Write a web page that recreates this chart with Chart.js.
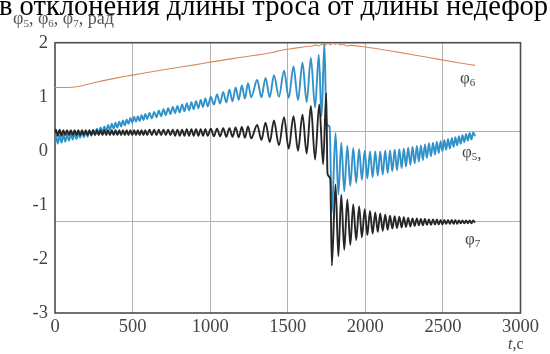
<!DOCTYPE html>
<html>
<head>
<meta charset="utf-8">
<script src="https://cdn.jsdelivr.net/npm/chart.js@4"></script>
<style>
  html, body { margin: 0; padding: 0; background: #fff; overflow: hidden; }
  canvas { display: block; }
</style>
</head>
<body>
<canvas id="chart" width="550" height="354"></canvas>
<script>
// tick values
const xTicks = [0, 500, 1000, 1500, 2000, 2500, 3000];
const yTicks = [-3, -2, -1, 0, 1, 2];
const yGuides = [0.36, -1.31];

// phi6 (orange), [t, value]
const phi6 = [
  [0,1.17],[80,1.17],[150,1.19],[250,1.26],[400,1.35],[500,1.40],[700,1.50],[900,1.59],[1000,1.64],
  [1200,1.73],[1400,1.82],[1460,1.86],[1550,1.90],[1620,1.93],[1660,1.94],[1680,1.96],[1700,1.94],
  [1720,1.97],[1740,1.95],[1760,1.99],[1775,1.96],[1790,2.0],[1805,1.97],[1820,1.99],[1840,1.96],
  [1860,1.97],[1880,1.94],[1900,1.95],[2000,1.92],[2200,1.83],[2400,1.73],[2600,1.63],[2707,1.58]
];

// phi5 (blue), peaks and troughs
const phi5 = [
  [0,0.14],[6,0.29],[18,0.13],[30,0.29],[42,0.15],[54,0.30],[66,0.17],[78,0.30],[90,0.19],[102,0.31],
  [114,0.21],[126,0.32],[138,0.22],[150,0.33],[162,0.24],[174,0.34],[186,0.25],[198,0.36],[210,0.26],
  [222,0.37],[234,0.28],[246,0.39],[258,0.30],[270,0.41],[282,0.32],[294,0.43],[306,0.34],[318,0.45],
  [330,0.36],[342,0.48],[354,0.39],[366,0.50],[378,0.41],[390,0.52],[402,0.43],[414,0.54],[426,0.45],
  [438,0.56],[450,0.47],[462,0.58],[474,0.50],[486,0.61],[498,0.52],[510,0.63],[522,0.54],[534,0.64],
  [546,0.55],[558,0.66],[570,0.57],[582,0.68],[594,0.59],
  [609,0.70],[624,0.60],[639,0.72],[654,0.62],[669,0.745],[684,0.64],[699,0.77],[714,0.66],[729,0.79],
  [744,0.68],[759,0.81],[774,0.70],[789,0.83],[804,0.71],[819,0.86],[834,0.73],[849,0.88],[864,0.75],
  [879,0.90],[894,0.77],[909,0.92],[924,0.79],[939,0.94],[954,0.81],[969,0.97],[984,0.82],
  [1004,1.00],[1024,0.855],[1044,1.045],[1064,0.875],[1084,1.09],[1104,0.895],[1124,1.13],[1144,0.915],
  [1164,1.17],[1184,0.945],[1204,1.21],[1224,0.965],[1244,1.25],[1264,0.99],
  [1303,1.31],[1330,0.99],[1357,1.35],[1384,0.99],[1411,1.40],[1443,1.00],[1476,1.48],[1506,0.98],
  [1537,1.56],[1566,0.94],[1595,1.63],[1622,0.90],[1649,1.72],[1676,0.80],[1700,1.78],[1718,0.64],
  [1736,2.0],[1750,0.5],[1770,0.44],[1784,-1.15],
  [1808,0.33],[1826,-0.81],[1845,0.15],[1864,-0.75],[1884,0.09],[1903,-0.65],[1922,0.05],[1941,-0.59],
  [1960,0.03],[1978,-0.535],[1996,0.0],[2013,-0.51],[2030,-0.01],[2047,-0.49],[2064,-0.01],[2080,-0.46],
  [2096,-0.01],[2112,-0.44],[2128,0.0],[2144,-0.41],[2159,0.01],[2174,-0.38],[2189,0.02],[2204,-0.36],
  [2219,0.03],[2234,-0.32],[2248,0.04],[2262,-0.29],[2276,0.06],[2290,-0.26],[2304,0.07],[2318,-0.23],
  [2332,0.09],[2345,-0.20],[2358,0.10],[2371,-0.17],[2384,0.12],[2397,-0.13],[2410,0.14],[2423,-0.10],
  [2436,0.15],[2449,-0.07],[2461,0.17],[2473,-0.04],[2485,0.18],[2497,-0.01],[2509,0.20],[2521,0.02],
  [2533,0.22],[2545,0.04],[2557,0.24],[2569,0.07],[2580,0.25],[2592,0.10],[2603,0.27],[2615,0.13],
  [2626,0.29],[2638,0.16],[2649,0.31],[2661,0.19],[2672,0.33],[2684,0.21],[2695,0.34],[2707,0.27]
];

// phi7 (black), peaks and troughs
const phi7 = [
  [0,0.33],[6,0.39],[18,0.28],[30,0.39],[42,0.28],[54,0.38],[66,0.29],[78,0.38],[90,0.29],[102,0.38],
  [114,0.29],[126,0.38],[138,0.29],[150,0.38],[162,0.29],[174,0.38],[186,0.29],[198,0.38],[210,0.29],
  [222,0.38],[234,0.29],[246,0.38],[258,0.29],[270,0.38],[282,0.29],[294,0.38],[306,0.29],[318,0.38],
  [330,0.29],[342,0.38],[354,0.29],[366,0.38],[378,0.29],[390,0.38],[402,0.29],[414,0.38],[426,0.29],
  [438,0.38],[450,0.29],[462,0.38],[474,0.29],[486,0.38],[498,0.29],[510,0.38],[522,0.29],[534,0.38],
  [546,0.29],[558,0.38],[570,0.29],[582,0.38],[594,0.29],
  [609,0.39],[624,0.29],[639,0.39],[654,0.29],[669,0.39],[684,0.29],[699,0.39],[714,0.29],[729,0.39],
  [744,0.29],[759,0.39],[774,0.28],[789,0.39],[804,0.28],[819,0.39],[834,0.28],[849,0.40],[864,0.28],
  [879,0.40],[894,0.28],[909,0.40],[924,0.28],[939,0.40],[954,0.28],[969,0.40],[984,0.28],
  [1004,0.41],[1024,0.27],[1044,0.41],[1064,0.27],[1084,0.42],[1104,0.26],[1124,0.42],[1144,0.26],
  [1164,0.43],[1184,0.25],[1204,0.44],[1224,0.24],[1244,0.45],[1264,0.23],
  [1303,0.48],[1330,0.20],[1357,0.52],[1384,0.16],[1411,0.56],[1443,0.10],[1476,0.62],[1506,0.04],
  [1537,0.64],[1566,0.00],[1595,0.67],[1622,-0.05],[1649,0.83],[1676,-0.16],[1703,0.86],[1728,-0.25],
  [1748,1.07],[1756,-0.42],[1774,-0.52],[1784,-2.12],
  [1808,-0.62],[1826,-1.95],[1845,-0.81],[1864,-1.83],[1884,-0.90],[1903,-1.74],[1922,-0.99],[1941,-1.65],
  [1960,-1.03],[1978,-1.60],[1996,-1.08],[2013,-1.56],[2030,-1.11],[2047,-1.53],[2064,-1.14],[2080,-1.50],
  [2096,-1.16],[2112,-1.48],[2128,-1.18],[2144,-1.46],[2159,-1.20],[2174,-1.44],[2189,-1.21],[2204,-1.43],
  [2219,-1.22],[2234,-1.42],[2248,-1.23],[2262,-1.41],[2276,-1.24],[2290,-1.40],[2304,-1.25],[2318,-1.39],
  [2332,-1.25],[2345,-1.38],[2358,-1.26],[2371,-1.38],[2384,-1.26],[2397,-1.37],[2410,-1.27],[2423,-1.37],
  [2436,-1.27],[2449,-1.36],[2461,-1.27],[2473,-1.36],[2485,-1.28],[2497,-1.36],[2509,-1.28],[2521,-1.35],
  [2533,-1.28],[2545,-1.35],[2557,-1.28],[2569,-1.35],[2580,-1.28],[2592,-1.35],[2603,-1.29],[2615,-1.34],
  [2626,-1.29],[2638,-1.34],[2649,-1.29],[2661,-1.34],[2672,-1.29],[2684,-1.34],[2695,-1.29],[2707,-1.33]
];

const serif = '"Liberation Serif", "Times New Roman", serif';

function toXY(arr) {
  return arr.map(p => ({ x: p[0], y: p[1] }));
}

// phi with a subscript, returns x after the text
function drawPhi(ctx, x, y, sub, size) {
  ctx.font = size + 'px ' + serif;
  ctx.fillText('φ', x, y);
  x += ctx.measureText('φ').width;
  ctx.font = Math.round(size * 0.62) + 'px ' + serif;
  ctx.fillText(sub, x, y + size * 0.18);
  return x + ctx.measureText(sub).width;
}

// box round the plot area
const framePlugin = {
  id: 'frame',
  beforeDatasetsDraw(chart) {
    const a = chart.chartArea;
    const ctx = chart.ctx;
    ctx.save();
    ctx.strokeStyle = '#4d4d4d';
    ctx.lineWidth = 1.6;
    ctx.strokeRect(a.left, a.top, a.right - a.left, a.bottom - a.top);
    ctx.restore();
  }
};

// caption fragment, axis titles and curve labels
const textPlugin = {
  id: 'texts',
  afterDraw(chart) {
    const ctx = chart.ctx;
    ctx.save();
    ctx.textAlign = 'left';
    ctx.textBaseline = 'alphabetic';

    ctx.fillStyle = '#000';
    ctx.font = '28.5px ' + serif;
    ctx.fillText('в отклонения длины троса от длины недефор', -1, 15);

    ctx.fillStyle = '#555';
    let x = 13;
    ['5', '6', '7'].forEach(s => {
      x = drawPhi(ctx, x, 24, s, 18);
      ctx.font = '18px ' + serif;
      ctx.fillText(', ', x, 24);
      x += ctx.measureText(', ').width;
    });
    ctx.font = '18px ' + serif;
    ctx.fillText('рад', x, 24);

    ctx.fillStyle = '#444';
    drawPhi(ctx, 460, 83, '6', 17);
    let x5 = drawPhi(ctx, 462, 157, '5', 17);
    ctx.font = '17px ' + serif;
    ctx.fillText(',', x5, 159);
    drawPhi(ctx, 465, 244, '7', 17);

    ctx.font = 'italic 16px ' + serif;
    ctx.fillText('t', 508, 349);
    const tw = ctx.measureText('t').width;
    ctx.font = '16px ' + serif;
    ctx.fillText(',c', 508 + tw, 349);
    ctx.restore();
  }
};

const common = { pointRadius: 0, fill: false, cubicInterpolationMode: 'monotone' };

new Chart(document.getElementById('chart').getContext('2d'), {
  type: 'line',
  data: {
    datasets: [
      Object.assign({ label: 'φ7', data: toXY(phi7), borderColor: '#262626', borderWidth: 1.9, order: 0 }, common),
      Object.assign({ label: 'φ5', data: toXY(phi5), borderColor: '#3192c9', borderWidth: 1.9, order: 1 }, common),
      Object.assign({ label: 'φ6', data: toXY(phi6), borderColor: '#d98a5c', borderWidth: 1.1, order: 2 }, common)
    ]
  },
  options: {
    responsive: false,
    animation: false,
    devicePixelRatio: 1,
    layout: { padding: { top: 42.7, right: 29.5, left: 0, bottom: 0 } },
    plugins: { legend: { display: false }, tooltip: { enabled: false } },
    scales: {
      x: {
        type: 'linear',
        min: 0,
        max: 3000,
        afterBuildTicks: axis => { axis.ticks = xTicks.map(v => ({ value: v })); },
        afterFit: scale => { scale.height = 41; },
        ticks: {
          callback: v => String(v),
          font: { family: serif, size: 18.5 },
          color: '#444',
          padding: 3,
          maxRotation: 0,
          autoSkip: false
        },
        grid: {
          drawTicks: false,
          lineWidth: 1,
          color: c => (c.tick && (c.tick.value === 0 || c.tick.value === 3000)) ? 'rgba(0,0,0,0)' : '#b0b0b0'
        },
        border: { display: false }
      },
      y: {
        min: -3,
        max: 2,
        afterBuildTicks: axis => { axis.ticks = yTicks.map(v => ({ value: v })); },
        afterFit: scale => { scale.width = 55; },
        ticks: {
          callback: v => String(v),
          font: { family: serif, size: 18.5 },
          color: '#444',
          padding: 7
        },
        grid: { display: false, drawTicks: false },
        border: { display: false }
      },
      yg: {
        type: 'linear',
        position: 'left',
        min: -3,
        max: 2,
        afterBuildTicks: axis => { axis.ticks = yGuides.map(v => ({ value: v })); },
        afterFit: scale => { scale.width = 0; },
        ticks: { display: false },
        grid: { color: '#b0b0b0', lineWidth: 1, drawTicks: false },
        border: { display: false }
      }
    }
  },
  plugins: [framePlugin, textPlugin]
});
</script>
</body>
</html>
